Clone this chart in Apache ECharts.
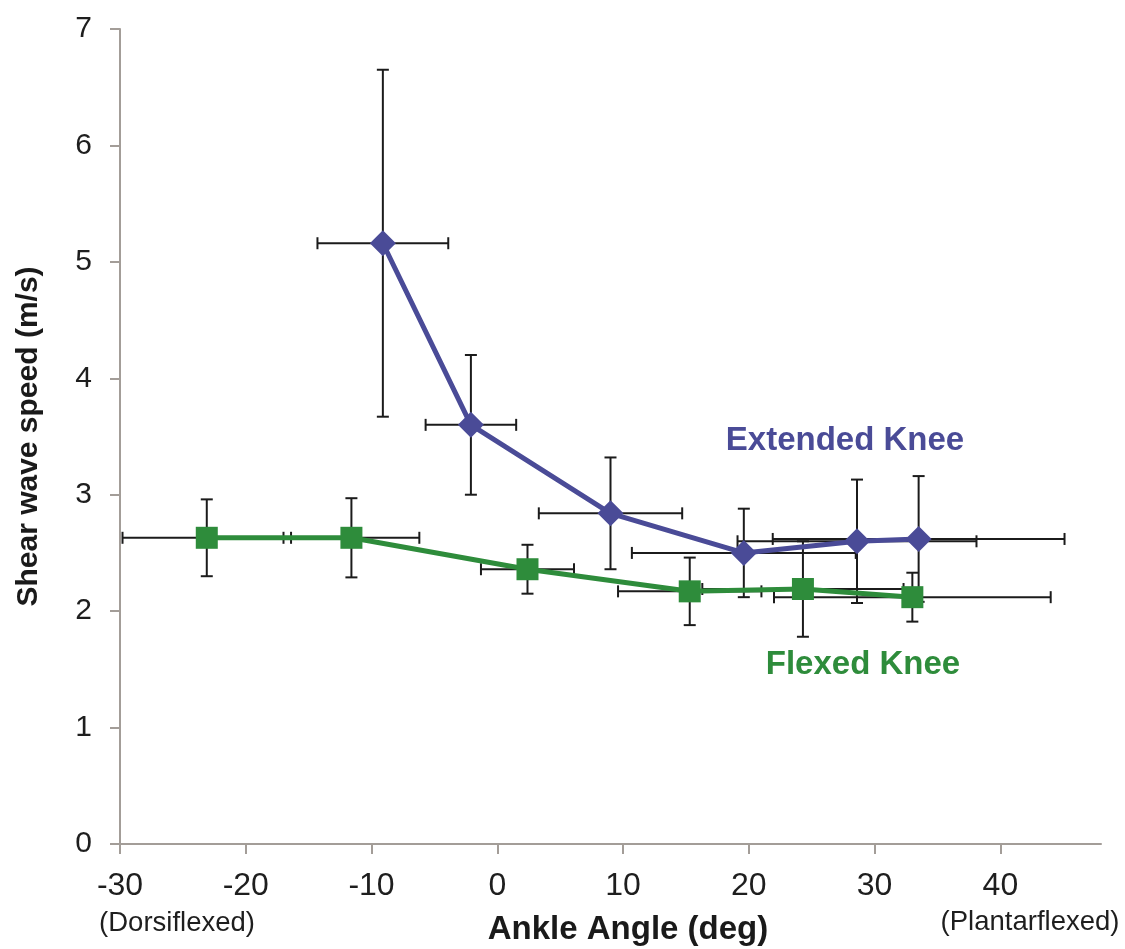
<!DOCTYPE html>
<html>
<head>
<meta charset="utf-8">
<title>Shear wave speed vs ankle angle</title>
<script src="https://cdn.jsdelivr.net/npm/echarts@6/dist/echarts.min.js"></script>
<style>
  html, body { margin: 0; padding: 0; background: #fff; }
  #chart { width: 1125px; height: 949px; }
</style>
</head>
<body>
<div id="chart"></div>
<script>
// Extended knee (blue diamonds): mean angle / speed and their SDs
const extAngle = [-9.1, -2.1, 9.0, 19.6, 28.6, 33.5];
const extSpeed = [5.16, 3.60, 2.84, 2.50, 2.60, 2.62];
const extAngleErr = [5.2, 3.6, 5.7, 8.9, 9.5, 11.6];
const extSpeedErr = [1.49, 0.60, 0.48, 0.38, 0.53, 0.54];

// Flexed knee (green squares)
const flxAngle = [-23.1, -11.6, 2.4, 15.3, 24.3, 33.0];
const flxSpeed = [2.63, 2.63, 2.36, 2.17, 2.19, 2.12];
const flxAngleErr = [6.7, 5.4, 3.7, 5.7, 8.0, 11.0];
const flxSpeedErr = [0.33, 0.34, 0.21, 0.29, 0.41, 0.21];

const xTicks = [-30, -20, -10, 0, 10, 20, 30, 40];

const BLUE = '#4a4b97';
const GREEN = '#2e8c3b';
const AXIS = '#a39d98';
const FONT = '"Liberation Sans", Arial, sans-serif';

const zip = (a, b) => a.map((v, i) => [v, b[i]]);
const errRows = (x, y, dx, dy) => x.map((v, i) => [v, y[i], dx[i], dy[i]]);

// draws a cross of error bars with end caps around each point
function renderErrorBars(params, api) {
  const x = api.value(0), y = api.value(1);
  const dx = api.value(2), dy = api.value(3);
  const l = api.coord([x - dx, y]);
  const r = api.coord([x + dx, y]);
  const t = api.coord([x, y + dy]);
  const b = api.coord([x, y - dy]);
  const cap = 6;
  const style = { stroke: '#1b1b1b', lineWidth: 2 };
  const seg = (x1, y1, x2, y2) => ({ type: 'line', shape: { x1, y1, x2, y2 }, style });
  return {
    type: 'group',
    children: [
      seg(l[0], l[1], r[0], r[1]),
      seg(l[0], l[1] - cap, l[0], l[1] + cap),
      seg(r[0], r[1] - cap, r[0], r[1] + cap),
      seg(t[0], t[1], b[0], b[1]),
      seg(t[0] - cap, t[1], t[0] + cap, t[1]),
      seg(b[0] - cap, b[1], b[0] + cap, b[1])
    ]
  };
}

const chart = echarts.init(document.getElementById('chart'));

chart.setOption({
  animation: false,
  backgroundColor: '#fff',
  grid: { left: 120, right: 24, top: 29, bottom: 105 },
  xAxis: {
    type: 'value',
    min: -30,
    max: 48,
    interval: 10,
    axisLine: { onZero: false, lineStyle: { color: AXIS, width: 2 } },
    axisTick: { customValues: xTicks, length: 10, lineStyle: { color: AXIS, width: 2 } },
    axisLabel: {
      customValues: xTicks,
      margin: 26,
      fontSize: 32,
      color: '#1e1e1e',
      fontFamily: FONT
    },
    splitLine: { show: false }
  },
  yAxis: {
    type: 'value',
    min: 0,
    max: 7,
    interval: 1,
    name: 'Shear wave speed (m/s)',
    nameLocation: 'middle',
    nameGap: 76,
    nameTextStyle: { fontSize: 30, fontWeight: 'bold', color: '#1a1a1a', fontFamily: FONT },
    axisLine: { show: true, onZero: false, lineStyle: { color: AXIS, width: 2 } },
    axisTick: { show: true, length: 10, lineStyle: { color: AXIS, width: 2 } },
    axisLabel: { margin: 28, fontSize: 30, color: '#1e1e1e', fontFamily: FONT },
    splitLine: { show: false }
  },
  graphic: [
    {
      type: 'text', x: 628, y: 930,
      style: { text: 'Ankle Angle (deg)', align: 'center', verticalAlign: 'middle',
        font: 'bold 33px ' + FONT, fill: '#1a1a1a' }
    },
    {
      type: 'text', x: 177, y: 923,
      style: { text: '(Dorsiflexed)', align: 'center', verticalAlign: 'middle',
        font: '27.5px ' + FONT, fill: '#1e1e1e' }
    },
    {
      type: 'text', x: 1030, y: 922,
      style: { text: '(Plantarflexed)', align: 'center', verticalAlign: 'middle',
        font: '27.5px ' + FONT, fill: '#1e1e1e' }
    },
    {
      type: 'text', x: 845, y: 441,
      style: { text: 'Extended Knee', align: 'center', verticalAlign: 'middle',
        font: 'bold 33px ' + FONT, fill: BLUE }
    },
    {
      type: 'text', x: 863, y: 665,
      style: { text: 'Flexed Knee', align: 'center', verticalAlign: 'middle',
        font: 'bold 33px ' + FONT, fill: GREEN }
    }
  ],
  series: [
    {
      type: 'custom',
      name: 'Extended error',
      renderItem: renderErrorBars,
      encode: { x: 0, y: 1 },
      data: errRows(extAngle, extSpeed, extAngleErr, extSpeedErr),
      z: 1
    },
    {
      type: 'custom',
      name: 'Flexed error',
      renderItem: renderErrorBars,
      encode: { x: 0, y: 1 },
      data: errRows(flxAngle, flxSpeed, flxAngleErr, flxSpeedErr),
      z: 1
    },
    {
      type: 'line',
      name: 'Extended Knee',
      data: zip(extAngle, extSpeed),
      symbol: 'diamond',
      symbolSize: 26,
      lineStyle: { color: BLUE, width: 5 },
      itemStyle: { color: BLUE },
      z: 3
    },
    {
      type: 'line',
      name: 'Flexed Knee',
      data: zip(flxAngle, flxSpeed),
      symbol: 'rect',
      symbolSize: 22,
      lineStyle: { color: GREEN, width: 5 },
      itemStyle: { color: GREEN },
      z: 4
    }
  ]
});
</script>
</body>
</html>
